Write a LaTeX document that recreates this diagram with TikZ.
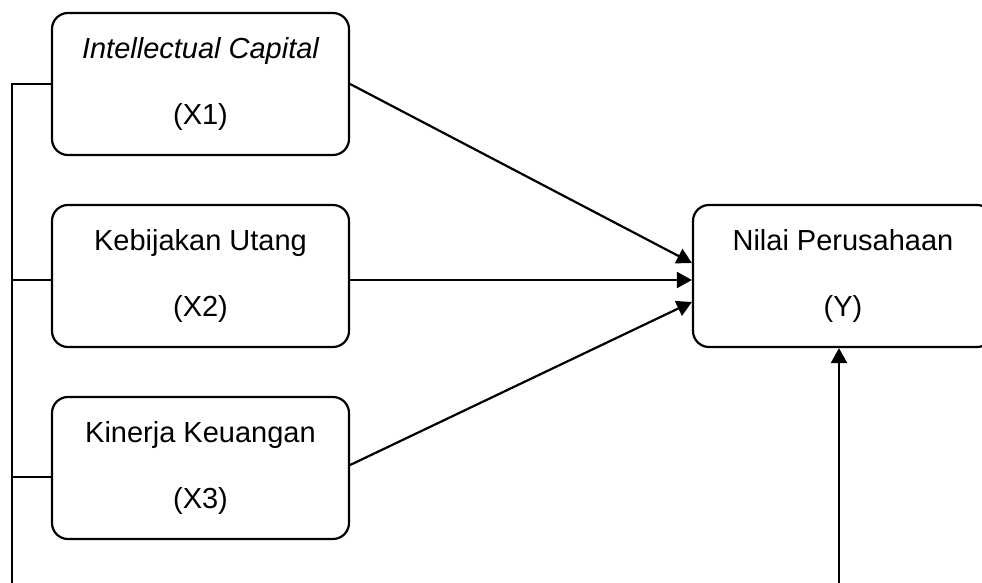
\documentclass[tikz,border=0pt]{standalone}
\usepackage{fontspec}
\setmainfont{Liberation Sans}
\usetikzlibrary{arrows.meta}
\tikzset{
  varbox/.style={draw, line width=2.2pt, rounded corners=16pt, minimum width=297pt,
    minimum height=142pt, align=center, inner sep=0pt,
    font=\fontsize{29}{66}\selectfont},
  link/.style={line width=2.2pt},
  arr/.style={line width=2.2pt, -{Triangle[length=15pt,width=16pt]}}
}
\begin{document}
\begin{tikzpicture}[x=1pt,y=-1pt]
\useasboundingbox (0,0) rectangle (982,583);
\clip (0,0) rectangle (982,583);
\node[varbox] (X1) at (200.5,84) {\itshape Intellectual Capital\\(X1)};
\node[varbox] (X2) at (200.5,276) {Kebijakan Utang\\(X2)};
\node[varbox] (X3) at (200.5,468) {Kinerja Keuangan\\(X3)};
\node[varbox, minimum width=300pt] (Y) at (843,276) {Nilai Perusahaan\\(Y)};
\coordinate (busBot) at (12,600);
\coordinate (bot) at (839,600);
% left bus
\draw[link] (X1.west) -- (X1.west -| busBot) -- (busBot);
\draw[link] ([yshift=-4pt]X2.west) -- ([yshift=-4pt]X2.west -| busBot);
\draw[link] ([yshift=-9pt]X3.west) -- ([yshift=-9pt]X3.west -| busBot);
% arrows to Y
\draw[arr] (X1.east) -- ([yshift=13pt]Y.west);
\draw[arr] ([yshift=-4pt]X2.east) -- ([yshift=-4pt]Y.west);
\draw[arr] ([yshift=3pt]X3.east) -- ([yshift=-26pt]Y.west);
\draw[arr] (bot) -- (bot |- Y.south);
\end{tikzpicture}
\end{document}
